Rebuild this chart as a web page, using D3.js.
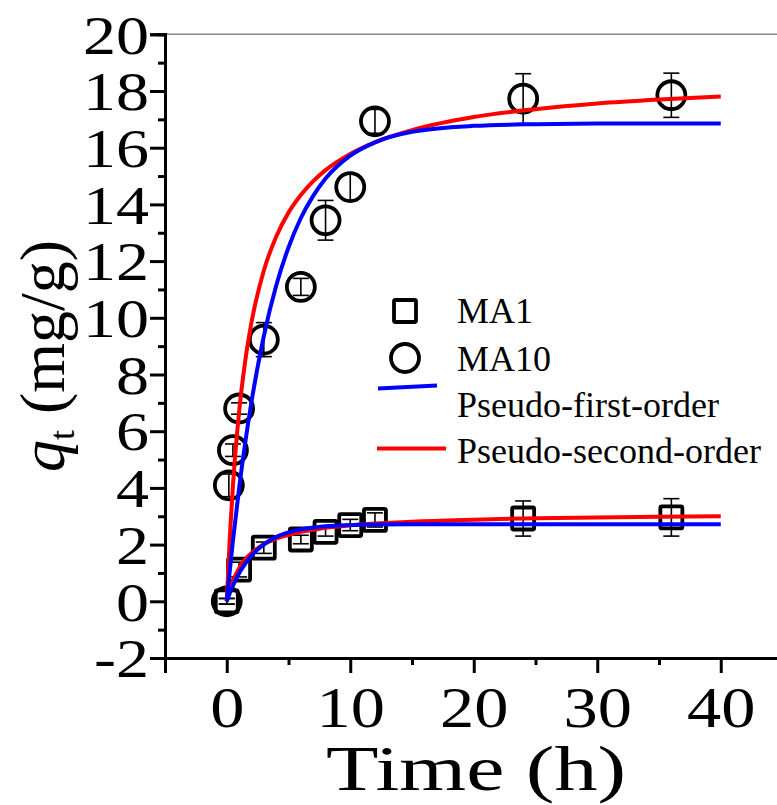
<!DOCTYPE html>
<html>
<head>
<meta charset="utf-8">
<script src="https://cdn.jsdelivr.net/npm/d3@7/dist/d3.min.js"></script>
<style>
    body { margin: 0; background: #fff; }
    svg { display: block; }
</style>
</head>
<body>
<div id="chart-area"></div>
<script>
// measured points
var timeMA1 = [0, 1, 3, 6, 8, 10, 12, 24, 36];
var qMA1 = [0, 1.12, 1.89, 2.18, 2.45, 2.69, 2.87, 2.92, 2.96];
var errMA1 = [0.1, 0.26, 0.2, 0.15, 0.15, 0.2, 0.25, 0.62, 0.66];

var timeMA10 = [0, 0.17, 0.5, 1, 3, 6, 8, 10, 12, 24, 36];
var qMA10 = [0, 4.09, 5.33, 6.8, 9.23, 11.09, 13.44, 14.61, 16.93, 17.73, 17.85];
var errMA10 = [0.1, 0.4, 0.22, 0.2, 0.6, 0.3, 0.7, 0.47, 0.42, 0.88, 0.78];

// fitted curves
var fitTime = [0, 0.25, 0.5, 1, 1.5, 2, 3, 4, 5, 6, 7, 8, 10, 12, 15, 20, 25, 30, 35, 40];
var pfoMA1 = [0, 0.29, 0.55, 0.99, 1.33, 1.61, 2.01, 2.27, 2.43, 2.54, 2.60, 2.65, 2.69, 2.71, 2.72, 2.72, 2.72, 2.72, 2.72, 2.72];
var psoMA1 = [0, 0.41, 0.72, 1.17, 1.48, 1.70, 2.01, 2.21, 2.34, 2.45, 2.52, 2.59, 2.68, 2.74, 2.81, 2.88, 2.93, 2.96, 2.98, 3.00];
var pfoMA10 = [0, 1.10, 2.13, 3.99, 5.61, 7.03, 9.35, 11.13, 12.48, 13.52, 14.30, 14.91, 15.72, 16.19, 16.56, 16.77, 16.83, 16.85, 16.85, 16.85];
var psoMA10 = [0, 2.28, 4.07, 6.68, 8.49, 9.83, 11.66, 12.86, 13.71, 14.33, 14.82, 15.21, 15.78, 16.19, 16.62, 17.08, 17.36, 17.56, 17.70, 17.81];

var xMajor = [0, 10, 20, 30, 40];
var xMinor = [5, 15, 25, 35];
var yMajor = [-2, 0, 2, 4, 6, 8, 10, 12, 14, 16, 18, 20];
var yMinor = [-1, 1, 3, 5, 7, 9, 11, 13, 15, 17, 19];

var legendNames = ["MA1", "MA10", "Pseudo-first-order", "Pseudo-second-order"];

var W = 777, H = 805;
var font = "'Liberation Serif', 'Times New Roman', serif";
var sx = 1.2; // the source figure's text is a bit wider than plain Times

var svg = d3.select("#chart-area")
    .append("svg")
        .attr("width", W)
        .attr("height", H)
        .style("overflow", "hidden");

var x = d3.scaleLinear().domain([-5, 45]).range([165, 165 + 50 * 12.35]);
var y = d3.scaleLinear().domain([-2, 20]).range([658, 34.3]);

// frame top line
svg.append("line")
    .attr("x1", x(-5)).attr("x2", W + 10)
    .attr("y1", y(20)).attr("y2", y(20))
    .attr("stroke", "#888").attr("stroke-width", 1.6);

// axes
var tickText = function(d) { return String(d); };
var xAxis = d3.axisBottom(x).tickValues(xMajor).tickSize(15).tickFormat(tickText);
var xAxisMinor = d3.axisBottom(x).tickValues(xMinor).tickSize(7).tickFormat("");
var yAxis = d3.axisLeft(y).tickValues(yMajor).tickSize(15).tickPadding(1).tickFormat(tickText);
var yAxisMinor = d3.axisLeft(y).tickValues(yMinor).tickSize(7).tickFormat("");

function styleAxis(sel, size) {
    sel.select(".domain").attr("stroke", "#000").attr("stroke-width", 3);
    sel.selectAll(".tick line").attr("stroke", "#000").attr("stroke-width", 3);
    sel.selectAll("text").attr("font-family", font).attr("font-size", size).attr("fill", "#000");
}

svg.append("g").attr("transform", "translate(0," + y(-2) + ")").call(xAxisMinor).call(styleAxis, 0);
svg.append("g").attr("class", "x axis").attr("transform", "translate(0," + y(-2) + ")")
    .call(xAxis).call(styleAxis, "57px");
svg.append("g").attr("transform", "translate(" + x(-5) + ",0)").call(yAxisMinor).call(styleAxis, 0);
svg.append("g").attr("class", "y axis").attr("transform", "translate(" + x(-5) + ",0)")
    .call(yAxis).call(styleAxis, "55px");
svg.selectAll(".x.axis text")
    .attr("y", 69).attr("dy", 0)
    .attr("transform", "scale(" + sx + ",1)");
svg.selectAll(".y.axis text")
    .attr("x", -16 / sx).attr("dy", "0.34em")
    .attr("transform", "scale(" + sx + ",1)");

// axis titles
svg.append("text")
    .attr("x", 476).attr("y", 790)
    .attr("text-anchor", "middle")
    .attr("font-family", font).attr("font-size", "63px")
    .attr("textLength", 300).attr("lengthAdjust", "spacingAndGlyphs")
    .text("Time (h)");

var yTitle = svg.append("text")
    .attr("transform", "translate(64,356) rotate(-90)")
    .attr("text-anchor", "middle")
    .attr("font-family", font).attr("font-size", "64px");
yTitle.append("tspan").attr("font-style", "italic").text("q");
yTitle.append("tspan").attr("font-size", "36px").attr("dy", 10).text("t");
yTitle.append("tspan").attr("dy", -10).text(" (mg/g)");

// error bars
function errorBars(ts, qs, es) {
    var g = svg.append("g").attr("stroke", "#000").attr("stroke-width", 1.6);
    ts.forEach(function(t, i) {
        var cx = x(t), top = y(qs[i] + es[i]), bot = y(qs[i] - es[i]);
        g.append("line").attr("x1", cx).attr("x2", cx).attr("y1", top).attr("y2", bot);
        g.append("line").attr("x1", cx - 8).attr("x2", cx + 8).attr("y1", top).attr("y2", top);
        g.append("line").attr("x1", cx - 8).attr("x2", cx + 8).attr("y1", bot).attr("y2", bot);
    });
}
errorBars(timeMA1, qMA1, errMA1);
errorBars(timeMA10, qMA10, errMA10);

// markers
svg.append("g").selectAll("rect")
    .data(timeMA1)
    .enter().append("rect")
        .attr("x", function(d) { return x(d) - 11; })
        .attr("y", function(d, i) { return y(qMA1[i]) - 11; })
        .attr("width", 22).attr("height", 22)
        .attr("rx", 1.5)
        .attr("fill", "none").attr("stroke", "#000").attr("stroke-width", 3.8);

svg.append("g").selectAll("circle")
    .data(timeMA10)
    .enter().append("circle")
        .attr("cx", function(d) { return x(d); })
        .attr("cy", function(d, i) { return y(qMA10[i]); })
        .attr("r", 14)
        .attr("fill", "none").attr("stroke", "#000").attr("stroke-width", 3.8);

// fit lines
var line = d3.line()
    .x(function(d) { return x(d[0]); })
    .y(function(d) { return y(d[1]); })
    .curve(d3.curveMonotoneX);

function fit(vals, color) {
    svg.append("path")
        .datum(fitTime.map(function(t, i) { return [t, vals[i]]; }))
        .attr("d", line)
        .attr("fill", "none")
        .attr("stroke", color)
        .attr("stroke-width", 4);
}
fit(psoMA1, "#ff0000");
fit(pfoMA1, "#0000ff");
fit(psoMA10, "#ff0000");
fit(pfoMA10, "#0000ff");

// legend
var leg = svg.append("g");
leg.append("rect").attr("x", 394).attr("y", 300).attr("width", 22).attr("height", 22).attr("rx", 1.5)
    .attr("fill", "none").attr("stroke", "#000").attr("stroke-width", 3.8);
leg.append("circle").attr("cx", 405).attr("cy", 358).attr("r", 14)
    .attr("fill", "none").attr("stroke", "#000").attr("stroke-width", 3.8);
leg.append("line").attr("x1", 378).attr("x2", 437).attr("y1", 388.5).attr("y2", 385.5)
    .attr("stroke", "#0000ff").attr("stroke-width", 4);
leg.append("line").attr("x1", 377).attr("x2", 446).attr("y1", 448.5).attr("y2", 448.5)
    .attr("stroke", "#ff0000").attr("stroke-width", 4);

var legY = [323, 371, 417, 463];
leg.selectAll("text")
    .data(legendNames)
    .enter().append("text")
        .attr("x", 457)
        .attr("y", function(d, i) { return legY[i]; })
        .attr("font-family", font).attr("font-size", "36px")
        .text(function(d) { return d; });
</script>
</body>
</html>
